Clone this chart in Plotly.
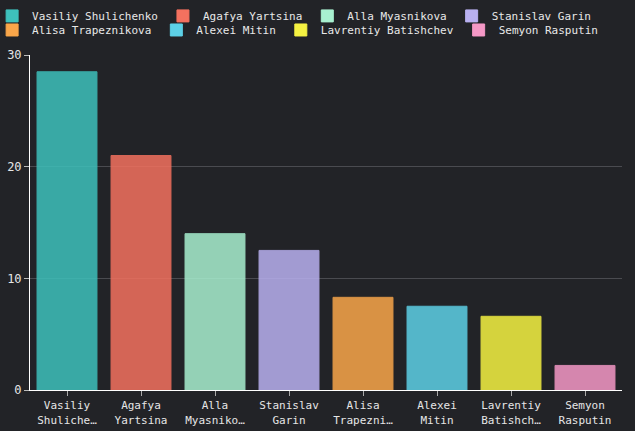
import plotly.graph_objects as go

names = ["Vasiliy Shulichenko", "Agafya Yartsina", "Alla Myasnikova", "Stanislav Garin",
         "Alisa Trapeznikova", "Alexei Mitin", "Lavrentiy Batishchev", "Semyon Rasputin"]
tick_labels = ["Vasiliy<br>Shuliche…", "Agafya<br>Yartsina", "Alla<br>Myasniko…", "Stanislav<br>Garin",
               "Alisa<br>Trapezni…", "Alexei<br>Mitin", "Lavrentiy<br>Batishch…", "Semyon<br>Rasputin"]
values = [28.5, 21.0, 14.0, 12.5, 8.3, 7.5, 6.6, 2.2]
colors = ["#3ec1bc", "#f4715f", "#a8f0d0", "#b9b0f0", "#f9a64a", "#5dd0e6", "#f5f242", "#f598c6"]

fig = go.Figure()
for i, (n, t, v, c) in enumerate(zip(names, tick_labels, values, colors)):
    fig.add_trace(go.Bar(
        x=[t], y=[v], name=n,
        marker=dict(color=c, opacity=0.85, line=dict(color=c, width=1)),
        legend="legend" if i < 4 else "legend2",
    ))

font = "DejaVu Sans Mono"
leg_common = dict(orientation="h", xref="paper", x=-0.064, xanchor="left",
                  yref="paper", yanchor="top", itemwidth=30,
                  font=dict(size=11, color="#e8e8e8"), bgcolor="rgba(0,0,0,0)")
fig.update_layout(
    width=635, height=431,
    paper_bgcolor="#222327", plot_bgcolor="#222327",
    margin=dict(l=30, r=13, t=55, b=41, autoexpand=False),
    font=dict(family=font, size=11, color="#e6e6e6"),
    barmode="overlay",
    bargap=0.19,
    showlegend=True,
    legend=dict(y=1.16, **leg_common),
    legend2=dict(y=1.118, **leg_common),
    xaxis=dict(categoryorder="array", categoryarray=tick_labels, automargin=False,
               showline=True, linecolor="#ffffff", linewidth=1,
               ticks="outside", ticklen=5, tickcolor="#aaaaaa",
               showgrid=False, tickfont=dict(size=11, color="#e6e6e6")),
    yaxis=dict(range=[0, 30], tickvals=[0, 10, 20, 30], automargin=False,
               showline=True, linecolor="#ffffff", linewidth=1,
               ticks="outside", ticklen=5, tickcolor="#bbbbbb",
               showgrid=True, gridcolor="#4a4b50", gridwidth=1,
               zeroline=False, tickfont=dict(size=12, color="#e6e6e6")),
)
fig.write_html("out.html")
